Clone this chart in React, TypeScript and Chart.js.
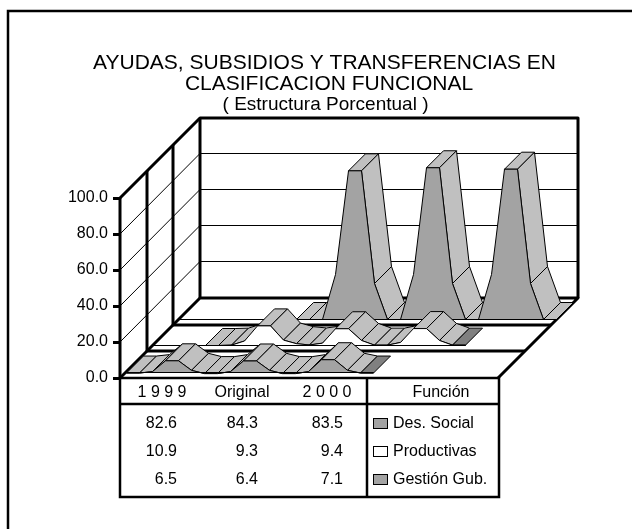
import React, { useEffect, useRef } from "react";
import { Chart, registerables } from "chart.js";

Chart.register(...registerables);

const titleLines = ["AYUDAS, SUBSIDIOS Y TRANSFERENCIAS EN", "CLASIFICACION FUNCIONAL"];
const subtitle = "( Estructura Porcentual )";
const columnLabels = ["1 9 9 9", "Original", "2 0 0 0"];
const legendTitle = "Función";
const seriesNames = ["Des. Social", "Productivas", "Gestión Gub."];
const tableDesSocial = ["82.6", "84.3", "83.5"];
const tableProductivas = ["10.9", "9.3", "9.4"];
const tableGestion = ["6.5", "6.4", "7.1"];
const steps = ["0","1","2","3","4","5","6","7","8","9","10","11","12","13","14","15","16","17","18","19","20","21","22","23","24","25","26","27","28","29"];
const n = null;
const gestionValues = [-0.3,-0.3,0.5,6.5,6.5,1.2,-0.6,-0.6,0.5,6.4,6.4,1.2,-0.6,-0.6,0.5,7.1,7.1,1.2,-0.3,-0.3,n,n,n,n,n,n,n,n,n,n];
const productivasValues = [n,n,n,n,0,0,0.2,2.5,10.9,10.9,3,1,0.3,1.3,9.3,9.3,2.8,0.2,0.2,1.7,9.4,9.4,2.8,0.2,0.2,n,n,n,n,n];
const desSocialValues = [n,n,n,n,n,n,n,n,n,0,0,0,25,82.6,82.6,20,0,0,25,84.3,84.3,20,0,0,25,83.5,83.5,20,0,0];
const yTicks = [0, 20, 40, 60, 80, 100];

const FRONT = "#a3a3a3";
const SIDE = "#c0c0c0";
const END = "#808080";
const FONT = '"Liberation Sans", Arial, sans-serif';
const DEPTH = 80;

const threeD = {
  id: "threeD",
  beforeDatasetsDraw(chart: any) {
    const { ctx, scales } = chart;
    const x = scales.x;
    const y = scales.y;
    const x0 = x.getPixelForValue(0);
    const x1 = x0 + 378;
    const yb = y.getPixelForValue(0);
    const line = (w: number, pts: number[][], color = "#000") => {
      ctx.beginPath();
      ctx.lineWidth = w;
      ctx.strokeStyle = color;
      pts.forEach((p, i) => (i ? ctx.lineTo(p[0], p[1]) : ctx.moveTo(p[0], p[1])));
      ctx.stroke();
    };
    ctx.save();
    ctx.lineJoin = "round";
    yTicks.forEach((t) => {
      const py = y.getPixelForValue(t);
      if (t > 0 && t < 100) {
        const backY = Math.round(py - DEPTH) - 0.5;
        line(1, [[x0, py], [x0 + DEPTH, backY], [x1 + DEPTH, backY]]);
      }
    });
    const yt = y.getPixelForValue(100);
    [0, 27, 53, 80].forEach((d) => {
      line(3, [[x0 + d, yb - d], [x0 + d, yt - d]]);
    });
    line(3, [[x0, yt], [x0 + DEPTH, yt - DEPTH], [x1 + DEPTH, yt - DEPTH], [x1 + DEPTH, yb - DEPTH]]);
    line(3, [[x0, yb], [x0 + DEPTH, yb - DEPTH], [x1 + DEPTH, yb - DEPTH], [x1, yb]]);
    [27, 53].forEach((d) => line(3, [[x0 + d, yb - d], [x1 + d, yb - d]]));

    // ribbons: back to front
    const ribbons = [
      { idx: 0, off: 59, endDark: false, face: FRONT },
      { idx: 1, off: 33, endDark: true, face: "#fff" },
      { idx: 2, off: 6, endDark: true, face: FRONT },
    ];
    const rd = 17;
    ctx.translate(0.5, 0.5);
    ribbons.forEach(({ idx, off, endDark, face }) => {
      const data = chart.data.datasets[idx].data as (number | null)[];
      const pts: number[][] = [];
      data.forEach((v, i) => {
        if (v !== null) pts.push([x.getPixelForValue(i) + off, y.getPixelForValue(v) - off]);
      });
      const base = yb - off;
      line(1, [[x0 + off, base], [pts[pts.length - 1][0], base]]);
      ctx.lineWidth = 1;
      ctx.strokeStyle = "#000";
      for (let i = 0; i < pts.length - 1; i++) {
        const a = pts[i];
        const b = pts[i + 1];
        const rising = a[1] - b[1] > b[0] - a[0];
        if (rising) continue;
        ctx.beginPath();
        ctx.moveTo(a[0], a[1]);
        ctx.lineTo(b[0], b[1]);
        ctx.lineTo(b[0] + rd, b[1] - rd);
        ctx.lineTo(a[0] + rd, a[1] - rd);
        ctx.closePath();
        ctx.fillStyle = endDark && i === pts.length - 2 ? END : SIDE;
        ctx.fill();
        ctx.stroke();
      }
      ctx.beginPath();
      ctx.moveTo(pts[0][0], base);
      pts.forEach((p) => ctx.lineTo(p[0], p[1]));
      ctx.lineTo(pts[pts.length - 1][0], base);
      ctx.closePath();
      ctx.fillStyle = face;
      ctx.fill();
      ctx.stroke();
    });
    ctx.restore();
  },
  afterDraw(chart: any) {
    const { ctx, scales } = chart;
    const x0 = scales.x.getPixelForValue(0);
    const yb = scales.y.getPixelForValue(0);
    ctx.save();
    // page frame
    ctx.strokeStyle = "#000";
    ctx.lineWidth = 2.5;
    ctx.beginPath();
    ctx.moveTo(8, 529);
    ctx.lineTo(8, 11);
    ctx.lineTo(632, 11);
    ctx.stroke();
    // title
    ctx.fillStyle = "#000";
    ctx.textAlign = "center";
    ctx.textBaseline = "middle";
    ctx.font = `21px ${FONT}`;
    ctx.fillText(titleLines[0], 324.5, 63);
    ctx.fillText(titleLines[1], 329, 84);
    ctx.font = `19px ${FONT}`;
    ctx.fillText(subtitle, 325.5, 105);
    // table
    const right = x0 + 379;
    const div = x0 + 247;
    const head = yb + 26;
    const bottom = yb + 119;
    ctx.lineWidth = 2.5;
    ctx.strokeRect(x0, yb, right - x0, bottom - yb);
    ctx.beginPath();
    ctx.moveTo(x0, head);
    ctx.lineTo(right, head);
    ctx.moveTo(div, yb);
    ctx.lineTo(div, bottom);
    ctx.stroke();
    ctx.font = `16px ${FONT}`;
    const cols = [162, 242, 327];
    columnLabels.forEach((c, i) => ctx.fillText(c, cols[i], yb + 15));
    ctx.fillText(legendTitle, 441, yb + 15);
    const rows = [tableDesSocial, tableProductivas, tableGestion];
    rows.forEach((r, ri) => {
      r.forEach((v, ci) => {
        ctx.textAlign = "right";
        ctx.fillText(v, [177, 258, 343][ci], yb + 46 + ri * 28);
      });
      ctx.textAlign = "left";
      ctx.fillText(seriesNames[ri], 393, yb + 46 + ri * 28);
      ctx.fillStyle = ri === 1 ? "#fff" : FRONT;
      ctx.fillRect(373, yb + 40 + ri * 28, 14, 10);
      ctx.lineWidth = 1;
      ctx.strokeRect(373.5, yb + 40.5 + ri * 28, 14, 10);
      ctx.fillStyle = "#000";
    });
    ctx.restore();
  },
};

export default function App() {
  const ref = useRef<HTMLCanvasElement>(null);
  useEffect(() => {
    document.body.style.margin = "0";
    const chart = new Chart(ref.current!, {
      type: "line",
      data: {
        labels: steps,
        datasets: [
          { label: seriesNames[0], data: desSocialValues, showLine: false, pointRadius: 0 },
          { label: seriesNames[1], data: productivasValues, showLine: false, pointRadius: 0 },
          { label: seriesNames[2], data: gestionValues, showLine: false, pointRadius: 0 },
        ],
      },
      options: {
        animation: false,
        responsive: false,
        layout: { padding: { left: 60, right: 135, top: 198, bottom: 151 } },
        plugins: { legend: { display: false }, title: { display: false }, tooltip: { enabled: false } },
        scales: {
          x: { type: "category", display: false, offset: false },
          y: {
            min: 0,
            max: 100,
            afterFit: (s: any) => { s.width = 60; },
            grid: { drawOnChartArea: false, tickLength: 7, tickWidth: 3, tickColor: "#000" },
            border: { display: false },
            ticks: {
              stepSize: 20,
              padding: 5,
              color: "#000",
              font: { family: FONT, size: 16 },
              callback: (v: any) => Number(v).toFixed(1),
            },
          },
        },
      },
      plugins: [threeD],
    } as any);
    return () => chart.destroy();
  }, []);
  return <canvas ref={ref} width={632} height={529} style={{ display: "block", background: "#fff" }} />;
}
